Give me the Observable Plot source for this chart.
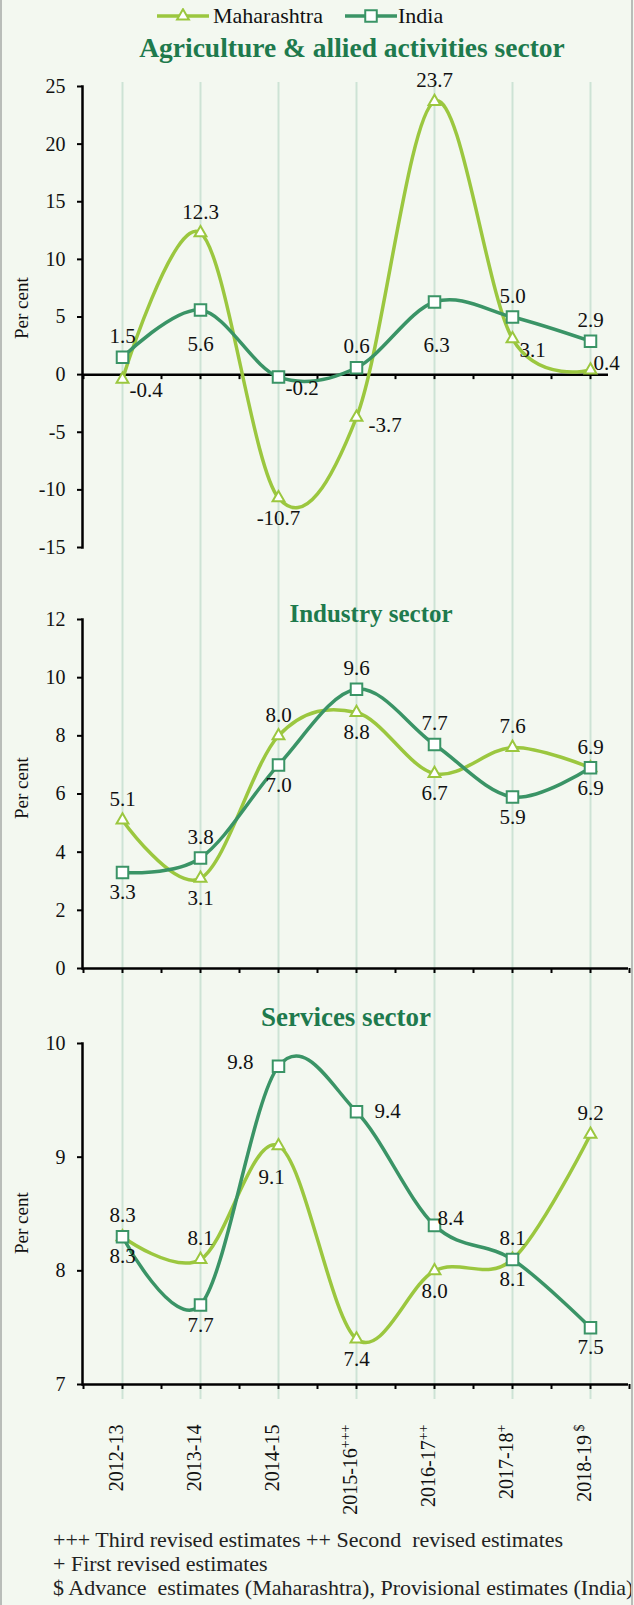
<!DOCTYPE html>
<html>
<head>
<meta charset="utf-8">
<script src="https://cdn.jsdelivr.net/npm/d3@7"></script>
<script src="https://cdn.jsdelivr.net/npm/@observablehq/plot@0.6"></script>
<style>
  body { margin: 0; background: #ffffff; }
  #chart { position: relative; width: 634px; height: 1605px; background: #f3f8f0; overflow: hidden;
           font-family: 'Liberation Serif', 'Times New Roman', serif; }
  #chart svg, #chart svg text { font-family: 'Liberation Serif', 'Times New Roman', serif !important; }
  .ptitle { position: absolute; font-weight: bold; color: #1e7a4d; font-size: 25px; white-space: nowrap;
            transform: translate(-50%, -50%); line-height: 1; }
  .foot { position: absolute; left: 53px; font-size: 22px; color: #222; white-space: nowrap; line-height: 1;
          transform: translateY(-50%); }
  .leg { position: absolute; font-size: 22px; color: #111; white-space: nowrap; line-height: 1; transform: translateY(-50%); }
  .edge { position: absolute; top: 0; width: 2px; height: 1605px; background: #b9bdb9; }
</style>
</head>
<body>
<div id="chart"></div>
<script>
// ---------- data ----------
const years = ["2012-13", "2013-14", "2014-15", "2015-16", "2016-17", "2017-18", "2018-19"];
const yearNotes = ["", "", "", "+++", "++", "+", " $"];
const seriesNames = ["Maharashtra", "India"];

const agriMaha  = [-0.4, 12.3, -10.7, -3.7, 23.7, 3.1, 0.4];
const agriIndia = [1.5, 5.6, -0.2, 0.6, 6.3, 5.0, 2.9];
const indMaha   = [5.1, 3.1, 8.0, 8.8, 6.7, 7.6, 6.9];
const indIndia  = [3.3, 3.8, 7.0, 9.6, 7.7, 5.9, 6.9];
const serMaha   = [8.3, 8.1, 9.1, 7.4, 8.0, 8.1, 9.2];
const serIndia  = [8.3, 7.7, 9.8, 9.4, 8.4, 8.1, 7.5];

const agriTicks = [-15, -10, -5, 0, 5, 10, 15, 20, 25];
const indTicks  = [0, 2, 4, 6, 8, 10, 12];
const serTicks  = [7, 8, 9, 10];

const titles = ["Agriculture & allied activities sector", "Industry sector", "Services sector"];
const yLabel = "Per cent";
const footnotes = [
  "+++ Third revised estimates ++ Second\u00a0 revised estimates",
  "+ First revised estimates",
  "$ Advance\u00a0 estimates (Maharashtra), Provisional estimates (India)"
];

// label placement codes for the value labels
const agriMahaPos  = ["br", "t", "b", "rb", "t", "br", "tr"];
const agriIndiaPos = ["t", "bb", "br", "t", "b3", "t", "t"];
const indMahaPos   = ["t", "b", "t", "b", "b", "t", "t"];
const indIndiaPos  = ["b", "t", "b", "t", "t", "b", "b"];
const serMahaPos   = ["t", "t", "bm", "b", "b", "t", "t"];
const serIndiaPos  = ["b", "b", "l", "r", "tr", "b", "b"];

// ---------- styles ----------
const mahaColor = "#9bc73f";
const indiaColor = "#3a9466";
const gridColor = "#cde3d5";
const POS = {
  t:  {a: "middle", dx: 0,   dy: -21},
  b:  {a: "middle", dx: 0,   dy: 20},
  bb: {a: "middle", dx: 0,   dy: 34},
  b3: {a: "middle", dx: 2,   dy: 43},
  bm: {a: "middle", dx: -7,  dy: 31},
  r:  {a: "start",  dx: 18,  dy: 0},
  rb: {a: "start",  dx: 12,  dy: 8},
  br: {a: "start",  dx: 7,   dy: 11},
  tr: {a: "start",  dx: 3,   dy: -7},
  l:  {a: "end",    dx: -25, dy: -4}
};

const root = document.getElementById("chart");
const X_RANGE = [122, 590];
const fmt = d => String(d);

function add(el, top, left) {
  el.style.position = "absolute";
  el.style.top = top + "px";
  el.style.left = (left || 0) + "px";
  root.appendChild(el);
  return el;
}

// ---------- continuous vertical gridlines ----------
const grid = Plot.plot({
  width: 634, height: 1317, margin: 0,
  x: {domain: [0, 6], range: X_RANGE, axis: null},
  style: {background: "transparent"},
  marks: [Plot.ruleX(years.map((d, i) => i), {x: d => d, stroke: gridColor, strokeWidth: 2})]
});
add(grid, 82);

// ---------- panels ----------
function panel(o) {
  const rows = (vals, pos) => vals.map((v, i) => ({i, v, pos: pos[i]}));
  const M = rows(o.maha, o.mahaPos), I = rows(o.india, o.indiaPos);
  const all = [...M, ...I];
  const labelMarks = [];
  for (const [code, p] of Object.entries(POS)) {
    const d = all.filter(r => r.pos === code);
    if (d.length) labelMarks.push(Plot.text(d, {x: "i", y: "v", text: r => r.v.toFixed(1),
      dx: p.dx, dy: p.dy, textAnchor: p.a, fontSize: 21, fill: "#111"}));
  }
  const xt = d3.range(-0.5, o.xEnd + 0.001, 0.5);
  const marks = [
    Plot.frame({anchor: "left", strokeWidth: 2.5, stroke: "#000"}),
    Plot.ruleY([o.base], {stroke: "#000", strokeWidth: 2.5}),
    Plot.ruleX(xt, {x: d => d, y1: o.base, y2: o.base, insetBottom: -5, stroke: "#000", strokeWidth: 2}),
    Plot.axisY(o.ticks, {tickSize: 5, tickPadding: 12, fontSize: 20, strokeWidth: 2, label: null, fill: "#111", tickFormat: fmt}),
    Plot.text([yLabel], {frameAnchor: "left", text: d => d, rotate: -90, dx: -61, dy: o.yLabelDy, fontSize: 19, fill: "#111"}),
    Plot.line(M, {x: "i", y: "v", stroke: mahaColor, strokeWidth: 3.5, curve: "cardinal"}),
    Plot.dot(M, {x: "i", y: "v", symbol: "triangle", r: 4.4, fill: "#fff", stroke: mahaColor, strokeWidth: 2}),
    Plot.line(I, {x: "i", y: "v", stroke: indiaColor, strokeWidth: 3.5, curve: "cardinal"}),
    Plot.dot(I, {x: "i", y: "v", symbol: "square", r: 6.5, fill: "#fff", stroke: indiaColor, strokeWidth: 2}),
    ...labelMarks
  ];
  if (o.xLabels) {
    marks.push(Plot.text(years, {x: (d, i) => i, frameAnchor: "bottom", text: d => d, dy: 40,
      rotate: -90, textAnchor: "end", fontSize: 20, fill: "#111"}));
  }
  const svg = Plot.plot({
    width: 634, height: o.height,
    marginLeft: 82, marginRight: o.mRight, marginTop: o.mTop, marginBottom: o.mBottom,
    x: {domain: [0, 6], range: X_RANGE, axis: null},
    y: {domain: o.domain, axis: null},
    style: {background: "transparent", fontFamily: "'Liberation Serif', 'Times New Roman', serif", fontSize: "20px", overflow: "visible", color: "#000"},
    marks
  });
  if (o.xLabels) {
    svg.querySelectorAll("text").forEach(t => {
      const k = years.indexOf(t.textContent);
      if (k >= 0 && yearNotes[k]) {
        const ts = document.createElementNS("http://www.w3.org/2000/svg", "tspan");
        ts.setAttribute("font-size", "14");
        ts.setAttribute("dy", "-7");
        ts.textContent = yearNotes[k];
        t.appendChild(ts);
      }
    });
  }
  add(svg, o.top);
}

panel({maha: agriMaha, india: agriIndia, mahaPos: agriMahaPos, indiaPos: agriIndiaPos,
  ticks: agriTicks, domain: [-15, 25], base: 0, top: 70, height: 520, mTop: 16, mBottom: 43, mRight: 26,
  xEnd: 6, yLabelDy: 22});
panel({maha: indMaha, india: indIndia, mahaPos: indMahaPos, indiaPos: indIndiaPos,
  ticks: indTicks, domain: [0, 12], base: 0, top: 590, height: 400, mTop: 29, mBottom: 22, mRight: 6,
  xEnd: 6.5, yLabelDy: 25});
panel({maha: serMaha, india: serIndia, mahaPos: serMahaPos, indiaPos: serIndiaPos,
  ticks: serTicks, domain: [7, 10], base: 7, top: 990, height: 520, mTop: 53, mBottom: 126, mRight: 6,
  xEnd: 6.5, yLabelDy: 40, xLabels: true});

// ---------- titles ----------
const titleFmt = [[48, 352, 27.5], [613, 371, 25], [1017, 346, 27]];
titles.forEach((t, k) => {
  const d = document.createElement("div");
  d.className = "ptitle";
  d.textContent = t;
  d.style.top = titleFmt[k][0] + "px";
  d.style.left = titleFmt[k][1] + "px";
  d.style.fontSize = titleFmt[k][2] + "px";
  root.appendChild(d);
});

// ---------- legend ----------
function swatch(color, symbolType, size) {
  const s = d3.create("svg").attr("width", 52).attr("height", 16);
  s.append("line").attr("x1", 0).attr("x2", 52).attr("y1", 8).attr("y2", 8)
    .attr("stroke", color).attr("stroke-width", 3.5);
  s.append("path").attr("d", d3.symbol(symbolType, size)())
    .attr("transform", "translate(26,8)").attr("fill", "#fff").attr("stroke", color).attr("stroke-width", 2);
  return s.node();
}
const legItems = [
  {name: seriesNames[0], color: mahaColor, sym: d3.symbolTriangle, size: Math.PI * 4.4 * 4.4, x: 157, tx: 213},
  {name: seriesNames[1], color: indiaColor, sym: d3.symbolSquare, size: Math.PI * 6.5 * 6.5, x: 345, tx: 398}
];
legItems.forEach(it => {
  add(swatch(it.color, it.sym, it.size), 8, it.x);
  const t = document.createElement("div");
  t.className = "leg";
  t.textContent = it.name;
  t.style.top = "16px";
  t.style.left = it.tx + "px";
  root.appendChild(t);
});

// ---------- footnotes ----------
const footY = [1540, 1564, 1588];
footnotes.forEach((f, k) => {
  const d = document.createElement("div");
  d.className = "foot";
  d.textContent = f;
  d.style.top = footY[k] + "px";
  root.appendChild(d);
});

// page edges
[0, 631].forEach(x => { const e = document.createElement("div"); e.className = "edge"; e.style.left = x + "px"; root.appendChild(e); });
</script>
</body>
</html>
